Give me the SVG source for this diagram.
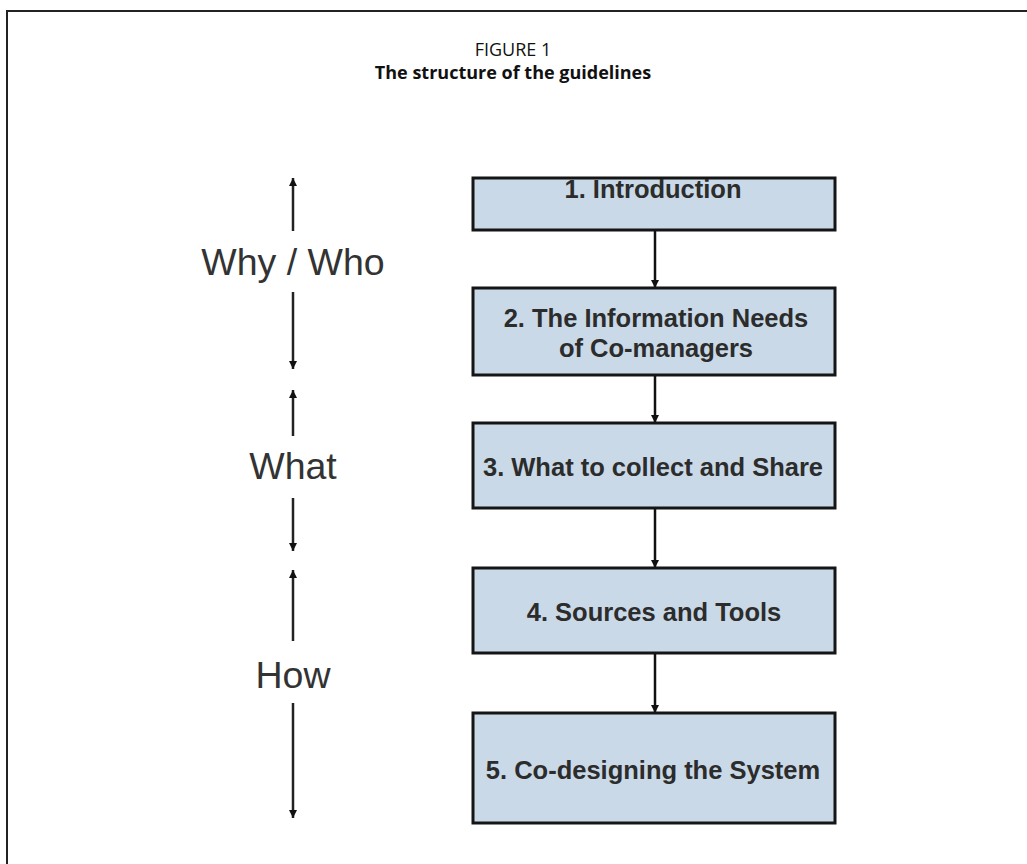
<svg xmlns="http://www.w3.org/2000/svg" width="1027" height="864" viewBox="0 0 1027 864">
  <defs>
    <style>
      .frame { stroke: #222; stroke-width: 2; fill: none; }
      .box { fill: #c9d9e7; stroke: #151515; stroke-width: 3; }
      .lbl { font-family: "Liberation Sans", Arial, sans-serif; font-weight: bold; font-size: 25.5px; fill: #2c2c2c; text-anchor: middle; }
      .side { font-family: "Liberation Sans", Arial, sans-serif; font-size: 37.5px; fill: #333; text-anchor: middle; }
      .title { font-family: "Open Sans", "Noto Sans", sans-serif; font-size: 18px; fill: #111; text-anchor: middle; }
      .link { stroke: #111; stroke-width: 2.5; fill: none; marker-end: url(#head); }
      .side-arrow { stroke: #222; stroke-width: 2.5; fill: none; marker-end: url(#head); }
    </style>
    <marker id="head" viewBox="0 0 10 10" refX="10" refY="5" markerWidth="8" markerHeight="8" markerUnits="userSpaceOnUse" orient="auto">
      <path d="M0,0 L10,5 L0,10 Z" fill="#111"/>
    </marker>
  </defs>

  <rect width="1027" height="864" fill="#ffffff"/>

  <!-- open frame: top and left rules -->
  <path class="frame" d="M7,864 L7,11 L1027,11"/>

  <!-- caption -->
  <g id="caption">
    <text class="title" x="513" y="56">FIGURE 1</text>
    <text class="title" x="513" y="79" font-weight="bold">The structure of the guidelines</text>
  </g>

  <!-- side scale labels -->
  <g id="side-why-who">
    <text class="side" x="293" y="275">Why / Who</text>
  </g>
  <g id="side-what">
    <text class="side" x="293" y="479">What</text>
  </g>
  <g id="side-how">
    <text class="side" x="293" y="688">How</text>
  </g>

  <g id="connectors">
    <!-- side arrows -->
    <line class="side-arrow" x1="293" y1="231" x2="293" y2="178"/>
    <line class="side-arrow" x1="293" y1="292" x2="293" y2="369"/>
    <line class="side-arrow" x1="293" y1="436" x2="293" y2="390"/>
    <line class="side-arrow" x1="293" y1="498" x2="293" y2="551"/>
    <line class="side-arrow" x1="293" y1="641" x2="293" y2="570"/>
    <line class="side-arrow" x1="293" y1="703" x2="293" y2="818"/>
    <!-- flow between boxes -->
    <line class="link" x1="655" y1="231" x2="655" y2="288"/>
    <line class="link" x1="655" y1="376" x2="655" y2="423"/>
    <line class="link" x1="655" y1="509" x2="655" y2="568"/>
    <line class="link" x1="655" y1="654" x2="655" y2="713"/>
  </g>

  <g id="box1">
    <rect class="box" x="473" y="178" width="362" height="52"/>
    <text class="lbl" x="653" y="198">1. Introduction</text>
  </g>
  <g id="box2">
    <rect class="box" x="473" y="288" width="362" height="87"/>
    <text class="lbl" x="656" y="327">2. The Information Needs</text>
    <text class="lbl" x="656" y="357">of Co-managers</text>
  </g>
  <g id="box3">
    <rect class="box" x="473" y="423" width="362" height="85"/>
    <text class="lbl" x="653" y="476">3. What to collect and Share</text>
  </g>
  <g id="box4">
    <rect class="box" x="473" y="568" width="362" height="85"/>
    <text class="lbl" x="654" y="621">4. Sources and Tools</text>
  </g>
  <g id="box5">
    <rect class="box" x="473" y="713" width="362" height="110"/>
    <text class="lbl" x="653" y="779">5. Co-designing the System</text>
  </g>
</svg>
